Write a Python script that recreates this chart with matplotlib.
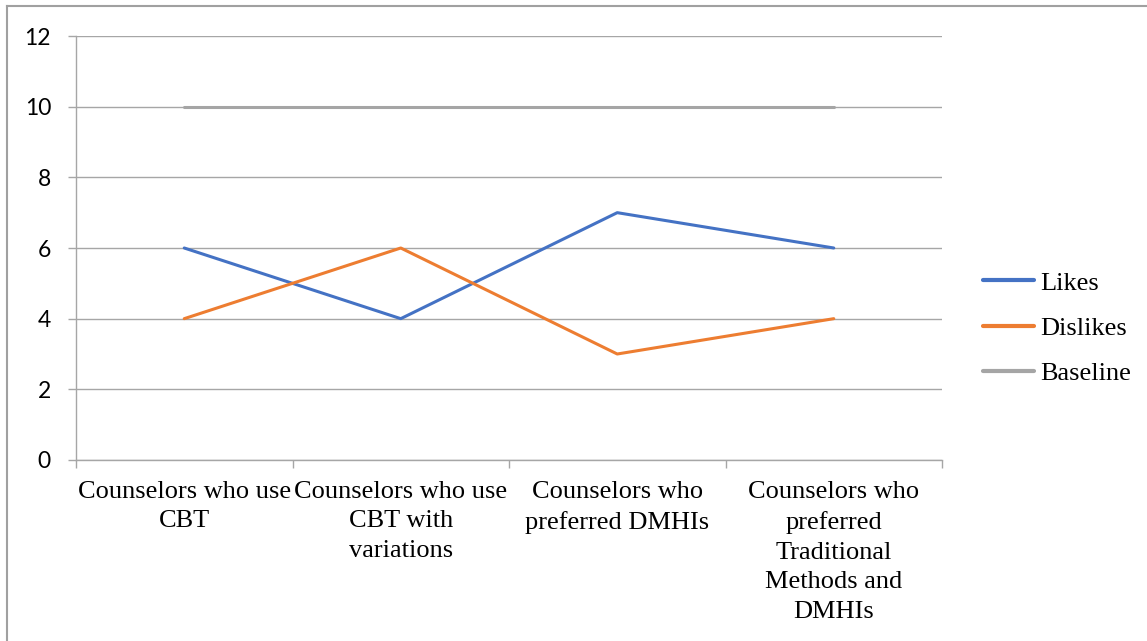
import numpy as np
import matplotlib
matplotlib.use('Agg')
import matplotlib.pyplot as plt
from matplotlib.lines import Line2D

categories = ['Counselors who use\nCBT',
              'Counselors who use\nCBT with\nvariations',
              'Counselors who\npreferred DMHIs',
              'Counselors who\npreferred\nTraditional\nMethods and\nDMHIs']
likes = [6, 4, 7, 6]
dislikes = [4, 6, 3, 4]
baseline = [10, 10, 10, 10]
y_ticks = [0, 2, 4, 6, 8, 10, 12]

W, H = 1147, 641
fig = plt.figure(figsize=(W / 100, H / 100), dpi=100)
ax = fig.add_axes([76 / W, 1 - 460 / H, (942 - 76) / W, (460 - 36) / H])

x = np.arange(len(categories))
ax.plot(x, likes, color='#4472C4', lw=2.2, label='Likes', solid_capstyle='round')
ax.plot(x, dislikes, color='#ED7D31', lw=2.2, label='Dislikes', solid_capstyle='round')
ax.plot(x, baseline, color='#A5A5A5', lw=2.2, label='Baseline', solid_capstyle='round')

ax.set_xlim(-0.5, len(categories) - 0.5)
ax.set_ylim(0, 12)

grid_c = '#A6A6A6'
ax.set_yticks(y_ticks)
ax.set_yticklabels([str(v) for v in y_ticks], fontfamily='Lato', fontsize=16.5)
ax.yaxis.grid(True, color=grid_c, lw=1)
ax.set_axisbelow(True)
ax.tick_params(axis='y', length=6, width=1, color=grid_c, pad=12)

ax.set_xticks(np.arange(-0.5, len(categories), 1.0))
ax.set_xticklabels([])
ax.set_xticks(x, minor=True)
ax.set_xticklabels(categories, minor=True, fontfamily='Liberation Serif', fontsize=19,
                   linespacing=1.45, va='top')
ax.tick_params(axis='x', which='major', length=6, width=1, color=grid_c, direction='out')
ax.tick_params(axis='x', which='minor', length=0, pad=15)

for s in ['top', 'right']:
    ax.spines[s].set_visible(False)
for s in ['left', 'bottom']:
    ax.spines[s].set_color(grid_c)
    ax.spines[s].set_linewidth(1)

leg = ax.legend(loc='center left', bbox_to_anchor=(983 / W, 1 - 328 / H),
                bbox_transform=fig.transFigure, frameon=False,
                prop={'family': 'Liberation Serif', 'size': 19},
                handlelength=1.95, handletextpad=0.2, labelspacing=0.82,
                borderpad=0, borderaxespad=0)
for h in leg.get_lines():
    h.set_linewidth(3)

# outer chart border (left and top visible)
bc = '#A0A0A0'
fig.add_artist(Line2D([7 / W, 7 / W], [0, 1 - 6 / H], transform=fig.transFigure, color=bc, lw=1.5))
fig.add_artist(Line2D([7 / W, 1], [1 - 6 / H, 1 - 6 / H], transform=fig.transFigure, color=bc, lw=1.5))

plt.savefig('out.png', dpi=100)
